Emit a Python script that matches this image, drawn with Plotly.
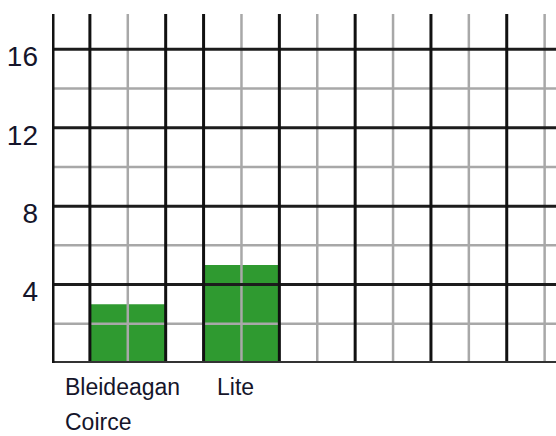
import plotly.graph_objects as go

# ---- data ----
categories = ["Bleideagan Coirce", "Lite"]
label_lines = [["Bleideagan", "Coirce"], ["Lite"]]
values = [3, 5]
positions = [2, 5]          # bar centres in grid-cell units
y_ticks = [4, 8, 12, 16]

# grid layout (cell units)
x_major = [1, 3, 4, 6, 8, 10, 12]
x_minor = [2, 5, 7, 9, 11, 13]
y_major = [4, 8, 12, 16]
y_minor = [2, 6, 10, 14]

X_MAX = 13.3
Y_MAX = 17.8
BAR_W = 2
GREEN = "#2f9a30"
INK = "#15152a"
FONT = "Liberation Sans, Arial, sans-serif"
label_xshift = [-27, 11]

fig = go.Figure()
fig.add_trace(go.Bar(
    x=positions, y=values, width=BAR_W, name="",
    marker=dict(color=GREEN, line=dict(width=0)),
    hoverinfo="skip",
))

shapes = []
for x in x_minor:
    shapes.append(dict(type="line", xref="x", yref="y", x0=x, x1=x, y0=0, y1=Y_MAX,
                       line=dict(color="#a8a8a8", width=2.5), layer="above"))
for y in y_minor:
    shapes.append(dict(type="line", xref="x", yref="y", x0=0, x1=X_MAX, y0=y, y1=y,
                       line=dict(color="#a8a8a8", width=2.5), layer="above"))
for y in y_major:
    shapes.append(dict(type="line", xref="x", yref="y", x0=0, x1=X_MAX, y0=y, y1=y,
                       line=dict(color="#1c1c1c", width=3), layer="above"))
for x in x_major:
    shapes.append(dict(type="line", xref="x", yref="y", x0=x, x1=x, y0=0, y1=Y_MAX,
                       line=dict(color="#111111", width=3), layer="above"))
# axes
shapes.append(dict(type="line", xref="x", yref="y", x0=0, x1=X_MAX, y0=0, y1=0,
                   line=dict(color="#333333", width=4), layer="above"))
shapes.append(dict(type="line", xref="x", yref="y", x0=0, x1=0, y0=-0.1, y1=Y_MAX,
                   line=dict(color="#111111", width=5), layer="above"))

annotations = []
for pos, lines, xs in zip(positions, label_lines, label_xshift):
    for i, line in enumerate(lines):
        annotations.append(dict(
            x=pos - BAR_W / 2, y=0, xref="x", yref="y", text=line, showarrow=False,
            xanchor="left", yanchor="top", align="left",
            xshift=xs, yshift=-9 - 35 * i,
            font=dict(family=FONT, size=23, color=INK),
        ))

fig.update_layout(
    width=556, height=436,
    margin=dict(l=52, r=0, t=14, b=73),
    paper_bgcolor="white", plot_bgcolor="white",
    showlegend=False,
    shapes=shapes,
    annotations=annotations,
    xaxis=dict(range=[0, X_MAX], showgrid=False, zeroline=False, automargin=False,
               showticklabels=False, ticks="", fixedrange=True),
    yaxis=dict(range=[0, Y_MAX], showgrid=False, zeroline=False, automargin=False,
               tickvals=y_ticks, ticktext=[str(v) for v in y_ticks],
               ticks="", ticklabelstandoff=13, ticklabelshift=7,
               tickfont=dict(family=FONT, size=28, color=INK), fixedrange=True),
)

fig.write_html("out.html", config={"displayModeBar": False, "staticPlot": True},
               post_script="document.body.style.margin='0';")
